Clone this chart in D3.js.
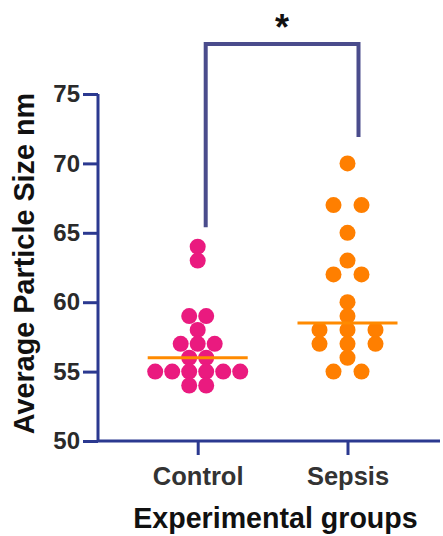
<!DOCTYPE html>
<html>
<head>
<meta charset="utf-8">
<script src="https://cdn.jsdelivr.net/npm/d3@7"></script>
<style>
  body { margin: 0; background: #fff; }
  text { font-family: "Liberation Sans", Arial, sans-serif; font-weight: bold; }
</style>
</head>
<body>
<div id="chart"></div>
<script>
// values
let groups = ["Control", "Sepsis"];
let controlValues = [64, 63, 59, 59, 58, 57, 57, 57, 56, 56, 55, 55, 55, 55, 55, 55, 54, 54];
let sepsisValues = [70, 67, 67, 65, 63, 62, 62, 60, 59, 58, 58, 58, 57, 57, 57, 56, 55, 55];
let yTicks = [50, 55, 60, 65, 70, 75];
let colors = ["#ea1a7f", "#ff7f00"];

function makeGraph() {
  let w = 443, h = 536;
  let margin = { left: 98, right: 3, top: 94, bottom: 95 };

  let svg = d3.select("#chart")
              .append("svg")
              .attr("width", w)
              .attr("height", h);

  let y = d3.scaleLinear().domain([50, 75]).range([h - margin.bottom, margin.top]);
  let x = d3.scalePoint().domain(groups).range([197.7, 347.5]);

  let axisColor = "#2b3990";

  // y axis
  let yAxis = svg.append("g")
     .attr("transform", `translate(${margin.left},0)`)
     .call(d3.axisLeft(y).tickValues(yTicks).tickSize(15).tickPadding(3));
  yAxis.select(".domain").attr("stroke", axisColor).attr("stroke-width", 3)
       .attr("d", `M0,${y(75)}V${y(50)}`);
  yAxis.selectAll(".tick line").attr("stroke", axisColor).attr("stroke-width", 3);
  yAxis.selectAll(".tick text").attr("fill", "#2a2a2a").attr("font-size", 24)
       .style("font-family", "Liberation Sans").style("font-weight", "bold");

  // x axis
  let xAxis = svg.append("g")
     .attr("transform", `translate(0,${y(50)})`)
     .call(d3.axisBottom(x).tickSize(14).tickPadding(12));
  xAxis.select(".domain").attr("stroke", axisColor).attr("stroke-width", 3)
       .attr("d", `M${margin.left},0H${w - margin.right}`);
  xAxis.selectAll(".tick line").attr("stroke", axisColor).attr("stroke-width", 3);
  xAxis.selectAll(".tick text").attr("fill", "#333").attr("font-size", 25.5)
       .style("font-family", "Liberation Sans").style("font-weight", "bold");

  // dots, stacked side by side when values repeat
  let spacing = [17, 28];
  let r = 8;
  [controlValues, sepsisValues].forEach((vals, gi) => {
    let counts = d3.rollup(vals, v => v.length, v => v);
    let seen = new Map();
    let pts = vals.map(v => {
      let n = counts.get(v);
      let k = seen.get(v) || 0;
      seen.set(v, k + 1);
      return { v: v, off: (k - (n - 1) / 2) * spacing[gi] };
    });
    svg.append("g").selectAll("circle")
       .data(pts)
       .enter()
       .append("circle")
       .attr("cx", d => x(groups[gi]) + d.off)
       .attr("cy", d => y(d.v))
       .attr("r", r)
       .attr("fill", colors[gi]);

    let med = d3.median(vals);
    svg.append("line")
       .attr("x1", x(groups[gi]) - 50)
       .attr("x2", x(groups[gi]) + 50)
       .attr("y1", y(med))
       .attr("y2", y(med))
       .attr("stroke", "#ff8a00")
       .attr("stroke-width", 3);
  });

  // significance bracket
  let bx1 = x("Control") + 8, bx2 = x("Sepsis") + 11;
  svg.append("path")
     .attr("d", `M${bx1},${y(65.4)}V${y(78.6)}H${bx2}V${y(71.9)}`)
     .attr("fill", "none")
     .attr("stroke", "#4a4c8c")
     .attr("stroke-width", 4);

  svg.append("text")
     .attr("x", (bx1 + bx2) / 2)
     .attr("y", 40)
     .attr("text-anchor", "middle")
     .attr("font-size", 36)
     .attr("fill", "#111")
     .text("*");

  // axis titles
  svg.append("text")
     .attr("x", 275.5)
     .attr("y", 528)
     .attr("text-anchor", "middle")
     .attr("font-size", 28.6)
     .attr("fill", "#111")
     .text("Experimental groups");

  svg.append("text")
     .attr("transform", `translate(34,263.5) rotate(-90)`)
     .attr("text-anchor", "middle")
     .attr("font-size", 28.8)
     .attr("fill", "#111")
     .text("Average Particle Size nm");
}

window.onload = function() {
  makeGraph();
};
</script>
</body>
</html>
